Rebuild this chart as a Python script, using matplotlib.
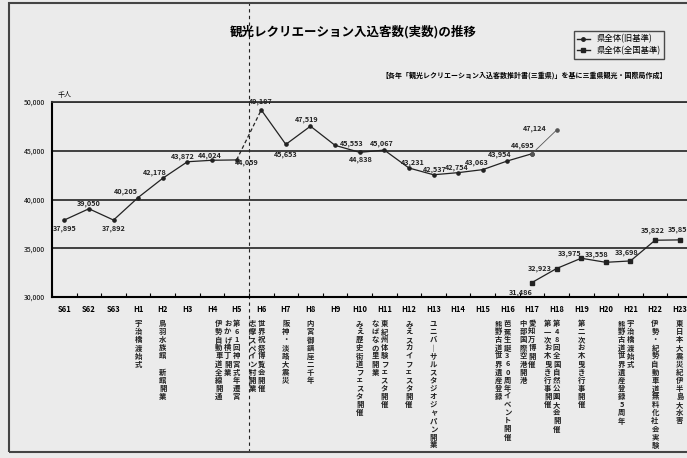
import numpy as np
import matplotlib.pyplot as plt
from matplotlib.patches import Rectangle
from matplotlib.ticker import FuncFormatter

plt.rcParams['font.family'] = ['Noto Sans CJK JP', 'DejaVu Sans']

# data
years = ['S61', 'S62', 'S63', 'H1', 'H2', 'H3', 'H4', 'H5', 'H6', 'H7', 'H8', 'H9', 'H10',
         'H11', 'H12', 'H13', 'H14', 'H15', 'H16', 'H17', 'H18', 'H19', 'H20', 'H21', 'H22', 'H23']
old_vals = [37895, 39050, 37892, 40205, 42178, 43872, 44024, 44059, 49187, 45653, 47519,
            45553, 44838, 45067, 43231, 42537, 42754, 43063, 43954, 44695, 47124]
new_years = ['H17', 'H18', 'H19', 'H20', 'H21', 'H22', 'H23']
new_vals = [31486, 32923, 33975, 33558, 33698, 35822, 35856]
events = {
    'H1': ['宇治橋渡始式'],
    'H2': ['鳥羽水族館　新館開業'],
    'H5': ['第61回神宮式年遷宮', 'おかげ横丁開業', '伊勢自動車道全線開通'],
    'H6': ['世界祝祭博覧会開催', '志摩スペイン村開業'],
    'H7': ['阪神・淡路大震災'],
    'H8': ['内宮御鎮座二千年'],
    'H10': ['みえ歴史街道フェスタ開催'],
    'H11': ['東紀州体験フェスタ開催', 'なばなの里開業'],
    'H12': ['みえスカイフェスタ開催'],
    'H13': ['ユニバーサルスタジオジャパン開業'],
    'H16': ['芭蕉生誕360周年イベント開催', '熊野古道世界遺産登録'],
    'H17': ['愛知万博開催', '中部国際空港開港'],
    'H18': ['第48回全国自然公園大会開催', '第一次お木曳き行事開催'],
    'H19': ['第二次お木曳き行事開催'],
    'H21': ['宇治橋渡始式', '熊野古道世界遺産登録5周年'],
    'H22': ['伊勢・紀勢自動車道無料化社会実験'],
    'H23': ['東日本大震災紀伊半島大水害'],
}
title = '観光レクリエーション入込客数(実数)の推移'
note = '【各年「観光レクリエーション入込客数推計書(三重県)」を基に三重県観光・国際局作成】'
old_name = '県全体(旧基準)'
new_name = '県全体(全国基準)'

# label offsets in pixels
old_off = [(0, -8), (0, 5), (0, -8), (-12, 6), (-8, 6), (-5, 5), (-2, 5), (10, -3), (0, 8),
           (0, -10), (-4, 7), (17, 2), (1, -7), (-3, 7), (4, 5), (1, 5), (-1, 5), (-6, 7),
           (-8, 6), (-9, 8), (-22, 2)]
new_off = [(-11, -10), (-17, 0), (-12, 5), (-9, 8), (-4, 8), (-2, 10), (0, 10)]

W, H = 687, 458
bg = '#ebebeb'
fig = plt.figure(figsize=(W / 100, H / 100), dpi=100)
fig.patch.set_facecolor(bg)
ax = fig.add_axes([52 / W, (H - 297) / H, 640 / W, 195 / H])
ax.set_facecolor(bg)

x_old = np.arange(len(old_vals))
x_new = np.array([years.index(y) for y in new_years])

# old standard line, dashed jump H5->H6, thin last segment
i5, i6, i17 = years.index('H5'), years.index('H6'), years.index('H17')
ax.plot(x_old[:i5 + 1], old_vals[:i5 + 1], color='#222', lw=0.9, marker='o', ms=2.3)
ax.plot(x_old[i5:i6 + 1], old_vals[i5:i6 + 1], color='#222', lw=0.9, ls=(0, (3, 2)))
ax.plot(x_old[i6:i17 + 1], old_vals[i6:i17 + 1], color='#222', lw=0.9, marker='o', ms=2.3)
ax.plot(x_old[i17:], old_vals[i17:], color='#555', lw=0.6, marker='o', ms=2.3)
ax.plot(x_new, new_vals, color='#222', lw=0.9, marker='s', ms=2.3)

for x, v, (dx, dy) in zip(x_old, old_vals, old_off):
    ax.annotate(f'{v:,}', xy=(x, v), xytext=(dx, dy), textcoords='offset pixels',
                ha='center', va='center', fontsize=5.2, fontweight='bold', color='#222')
for x, v, (dx, dy) in zip(x_new, new_vals, new_off):
    ax.annotate(f'{v:,}', xy=(x, v), xytext=(dx, dy), textcoords='offset pixels',
                ha='center', va='center', fontsize=5.2, fontweight='bold', color='#222',
                annotation_clip=False)

# axes
ax.set_xlim(-0.5, 25.5)
ax.set_ylim(30000, 50000)
ax.set_yticks(range(30000, 50001, 5000))
ax.yaxis.set_major_formatter(FuncFormatter(lambda v, p: f'{int(v):,}'))
ax.grid(axis='y', color='#333', lw=1.3)
ax.set_axisbelow(True)
ax.tick_params(axis='y', length=0, labelsize=5, pad=5)
ax.set_xticks(range(len(years)))
ax.set_xticklabels(years, fontsize=5.5, fontweight='bold')
ax.tick_params(axis='x', which='major', length=0, pad=6)
ax.set_xticks(np.arange(-0.5, len(years), 1), minor=True)
ax.tick_params(axis='x', which='minor', direction='in', length=3, width=0.8)
ax.spines['right'].set_visible(False)
ax.spines['top'].set_color('#333')
ax.spines['top'].set_linewidth(1.3)
ax.spines['left'].set_linewidth(1.5)
ax.spines['bottom'].set_linewidth(1.5)

# dashed divider
ax.axvline(7.5, ymin=(297 - 452) / 195, ymax=(297 - 3) / 195, color='#222', lw=0.8,
           ls=(0, (3, 3)), clip_on=False)

# vertical event texts
for y, texts in events.items():
    i = years.index(y)
    for k, t in enumerate(texts):
        for j, ch in enumerate(t.replace('ー', '｜')):
            ax.annotate(ch, xy=(i - 0.36 * k, 0), xycoords=('data', 'axes fraction'),
                        xytext=(0, -(23 + j * 8.1)), textcoords='offset pixels',
                        ha='center', va='top', fontsize=5.3, fontweight='bold',
                        color='#222', annotation_clip=False)

fig.text(353 / W, 1 - 32 / H, title, ha='center', va='center', fontsize=9, fontweight='bold')
fig.text(667 / W, 1 - 75 / H, note, ha='right', va='center', fontsize=5, fontweight='bold')
fig.text(58 / W, 1 - 95 / H, '千人', ha='left', va='center', fontsize=5)

h1, = ax.plot([], [], color='#222', lw=1, marker='o', ms=2.5)
h2, = ax.plot([], [], color='#222', lw=1, marker='s', ms=2.5)
fig.legend([h1, h2], [old_name, new_name], loc='upper right',
           bbox_to_anchor=(668 / W, 1 - 27 / H), fontsize=6, frameon=True, fancybox=False,
           edgecolor='#222', facecolor=bg, handlelength=1.5, borderpad=0.4, labelspacing=0.3)

fig.add_artist(Rectangle((9 / W, 6 / H), 1.0, (452 - 3) / H, transform=fig.transFigure,
                         fill=False, edgecolor='#444', lw=1.5))

fig.savefig('out.png', dpi=100, facecolor=bg)
